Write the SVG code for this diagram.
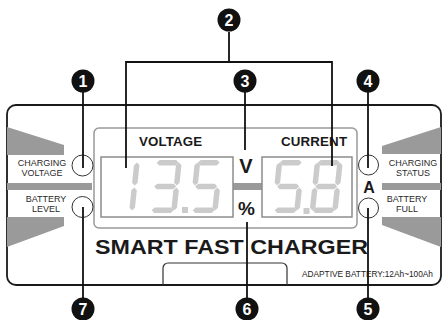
<svg xmlns="http://www.w3.org/2000/svg" xmlns:xlink="http://www.w3.org/1999/xlink" width="443" height="320" viewBox="0 0 443 320">
<style>
text{font-family:"Liberation Sans",Arial,sans-serif}
.lbl{font-size:9px;fill:#2a2a2a;text-anchor:middle}
.ttl{font-size:13.3px;font-weight:bold;fill:#1a1a1a}
.big{font-weight:bold;fill:#1a1a1a;text-anchor:middle}
.gray{fill:#9a9a9a}
.ind{fill:#fff;stroke:#333;stroke-width:1}
.box{fill:#fff;stroke:#8c8c8c;stroke-width:1.5}
.seg{fill:#cbcbcb}
.badge circle{fill:#111}
.badge text{fill:#fff;font-size:16px;font-weight:bold;text-anchor:middle}
.lead{stroke:#111;stroke-width:1.8;fill:none}
</style>
<defs>
<polygon id="sh" class="seg" points="0,2.75 2.75,0 19.25,0 22,2.75 19.25,5.5 2.75,5.5"/>
<polygon id="sv" class="seg" points="2.75,0 5.5,2.75 5.5,20.25 2.75,23 0,20.25 0,2.75"/>
</defs>
<rect width="443" height="320" fill="#fff"/>
<g id="panel">
<rect x="7" y="105" width="434" height="180" rx="9" fill="#fff" stroke="#1a1a1a" stroke-width="1.8"/>
<polygon class="gray" points="7,127 64,145 64,155 7,155"/>
<polygon class="gray" points="7,217 64,217 64,226 7,247"/>
<polygon class="gray" points="382,146 441,127 441,154 382,154"/>
<polygon class="gray" points="382,217 441,217 441,247 382,225"/>
<rect class="gray" x="7" y="183" width="85" height="7"/>
<rect class="gray" x="382" y="183" width="59" height="7"/>
<rect x="94" y="128" width="263" height="100" rx="5" fill="#fff" stroke="#999" stroke-width="1.5"/>
<rect class="gray" x="233" y="183" width="29" height="7"/>
<path d="M163,285 V268 a5,5 0 0 1 5,-5 H282 a5,5 0 0 1 5,5 V285" fill="none" stroke="#333" stroke-width="1.2"/>
<text class="big" x="95" y="254" font-size="20.5" text-anchor="start" textLength="273" lengthAdjust="spacingAndGlyphs" style="text-anchor:start">SMART FAST CHARGER</text>
<text x="302" y="277" font-size="8.8" fill="#222" textLength="131" lengthAdjust="spacingAndGlyphs">ADAPTIVE BATTERY:12Ah~100Ah</text>
</g>
<g id="voltage-display">
<text class="ttl" x="139" y="146" textLength="63">VOLTAGE</text>
<rect class="box" x="101" y="157" width="132" height="60"/>
<g transform="translate(112,160) skewX(-6)"><use xlink:href="#sv" x="22.5" y="2.5"/><use xlink:href="#sv" x="22.5" y="27.5"/></g>
<g transform="translate(154,160) skewX(-6)"><use xlink:href="#sh" x="3" y="0"/><use xlink:href="#sv" x="22.5" y="2.5"/><use xlink:href="#sh" x="3" y="23.75"/><use xlink:href="#sv" x="22.5" y="27.5"/><use xlink:href="#sh" x="3" y="47.5"/></g>
<rect class="seg" x="182" y="207" width="6" height="6"/>
<g transform="translate(195,160) skewX(-6)"><use xlink:href="#sh" x="3" y="0"/><use xlink:href="#sv" x="0" y="2.5"/><use xlink:href="#sh" x="3" y="23.75"/><use xlink:href="#sv" x="22.5" y="27.5"/><use xlink:href="#sh" x="3" y="47.5"/></g>
<text class="big" x="246" y="173" font-size="20">V</text>
<text class="big" x="246.5" y="215" font-size="19">%</text>
</g>
<g id="current-display">
<text class="ttl" x="281" y="146" textLength="66">CURRENT</text>
<rect class="box" x="262" y="157" width="90" height="60"/>
<g transform="translate(277,160) skewX(-6)"><use xlink:href="#sh" x="3" y="0"/><use xlink:href="#sv" x="0" y="2.5"/><use xlink:href="#sh" x="3" y="23.75"/><use xlink:href="#sv" x="22.5" y="27.5"/><use xlink:href="#sh" x="3" y="47.5"/></g>
<rect class="seg" x="303.5" y="208" width="6" height="6"/>
<g transform="translate(315,160) skewX(-6)"><use xlink:href="#sh" x="3" y="0"/><use xlink:href="#sv" x="0" y="2.5"/><use xlink:href="#sv" x="22.5" y="2.5"/><use xlink:href="#sh" x="3" y="23.75"/><use xlink:href="#sv" x="0" y="27.5"/><use xlink:href="#sv" x="22.5" y="27.5"/><use xlink:href="#sh" x="3" y="47.5"/></g>
<text class="big" x="369" y="193" font-size="16">A</text>
</g>
<g id="ind-charging-voltage">
<circle class="ind" cx="82.5" cy="165.5" r="10.5"/>
<text class="lbl" x="42" y="166">CHARGING</text><text class="lbl" x="42" y="176">VOLTAGE</text>
</g>
<g id="ind-battery-level">
<circle class="ind" cx="82.5" cy="207" r="10.5"/>
<text class="lbl" x="46" y="202">BATTERY</text><text class="lbl" x="46" y="212">LEVEL</text>
</g>
<g id="ind-charging-status">
<circle class="ind" cx="368.5" cy="165" r="10"/>
<text class="lbl" x="413" y="166">CHARGING</text><text class="lbl" x="413" y="176">STATUS</text>
</g>
<g id="ind-battery-full">
<circle class="ind" cx="368.5" cy="208" r="10"/>
<text class="lbl" x="407" y="202">BATTERY</text><text class="lbl" x="407" y="212">FULL</text>
</g>
<g id="connectors">
<path class="lead" d="M83,92 V168"/>
<path class="lead" d="M229,32 V62 M126,62 H332 M126,61.1 V168 M332,61.1 V166"/>
<path class="lead" d="M245,92 V150"/>
<path class="lead" d="M368,92 V168"/>
<path class="lead" d="M368,208 V298"/>
<path class="lead" d="M247,222 V298"/>
<path class="lead" d="M83,207 V298"/>
</g>
<g id="badge-1" class="badge"><circle cx="83" cy="81" r="11.5"/><text x="83" y="87">1</text></g>
<g id="badge-2" class="badge"><circle cx="229" cy="20" r="11.5"/><text x="229" y="26">2</text></g>
<g id="badge-3" class="badge"><circle cx="245" cy="81" r="11.5"/><text x="245" y="87">3</text></g>
<g id="badge-4" class="badge"><circle cx="368" cy="81" r="11.5"/><text x="368" y="87">4</text></g>
<g id="badge-5" class="badge"><circle cx="368" cy="309" r="11.5"/><text x="368" y="315">5</text></g>
<g id="badge-6" class="badge"><circle cx="247" cy="309" r="11.5"/><text x="247" y="315">6</text></g>
<g id="badge-7" class="badge"><circle cx="83" cy="309" r="11.5"/><text x="83" y="315">7</text></g>
</svg>
